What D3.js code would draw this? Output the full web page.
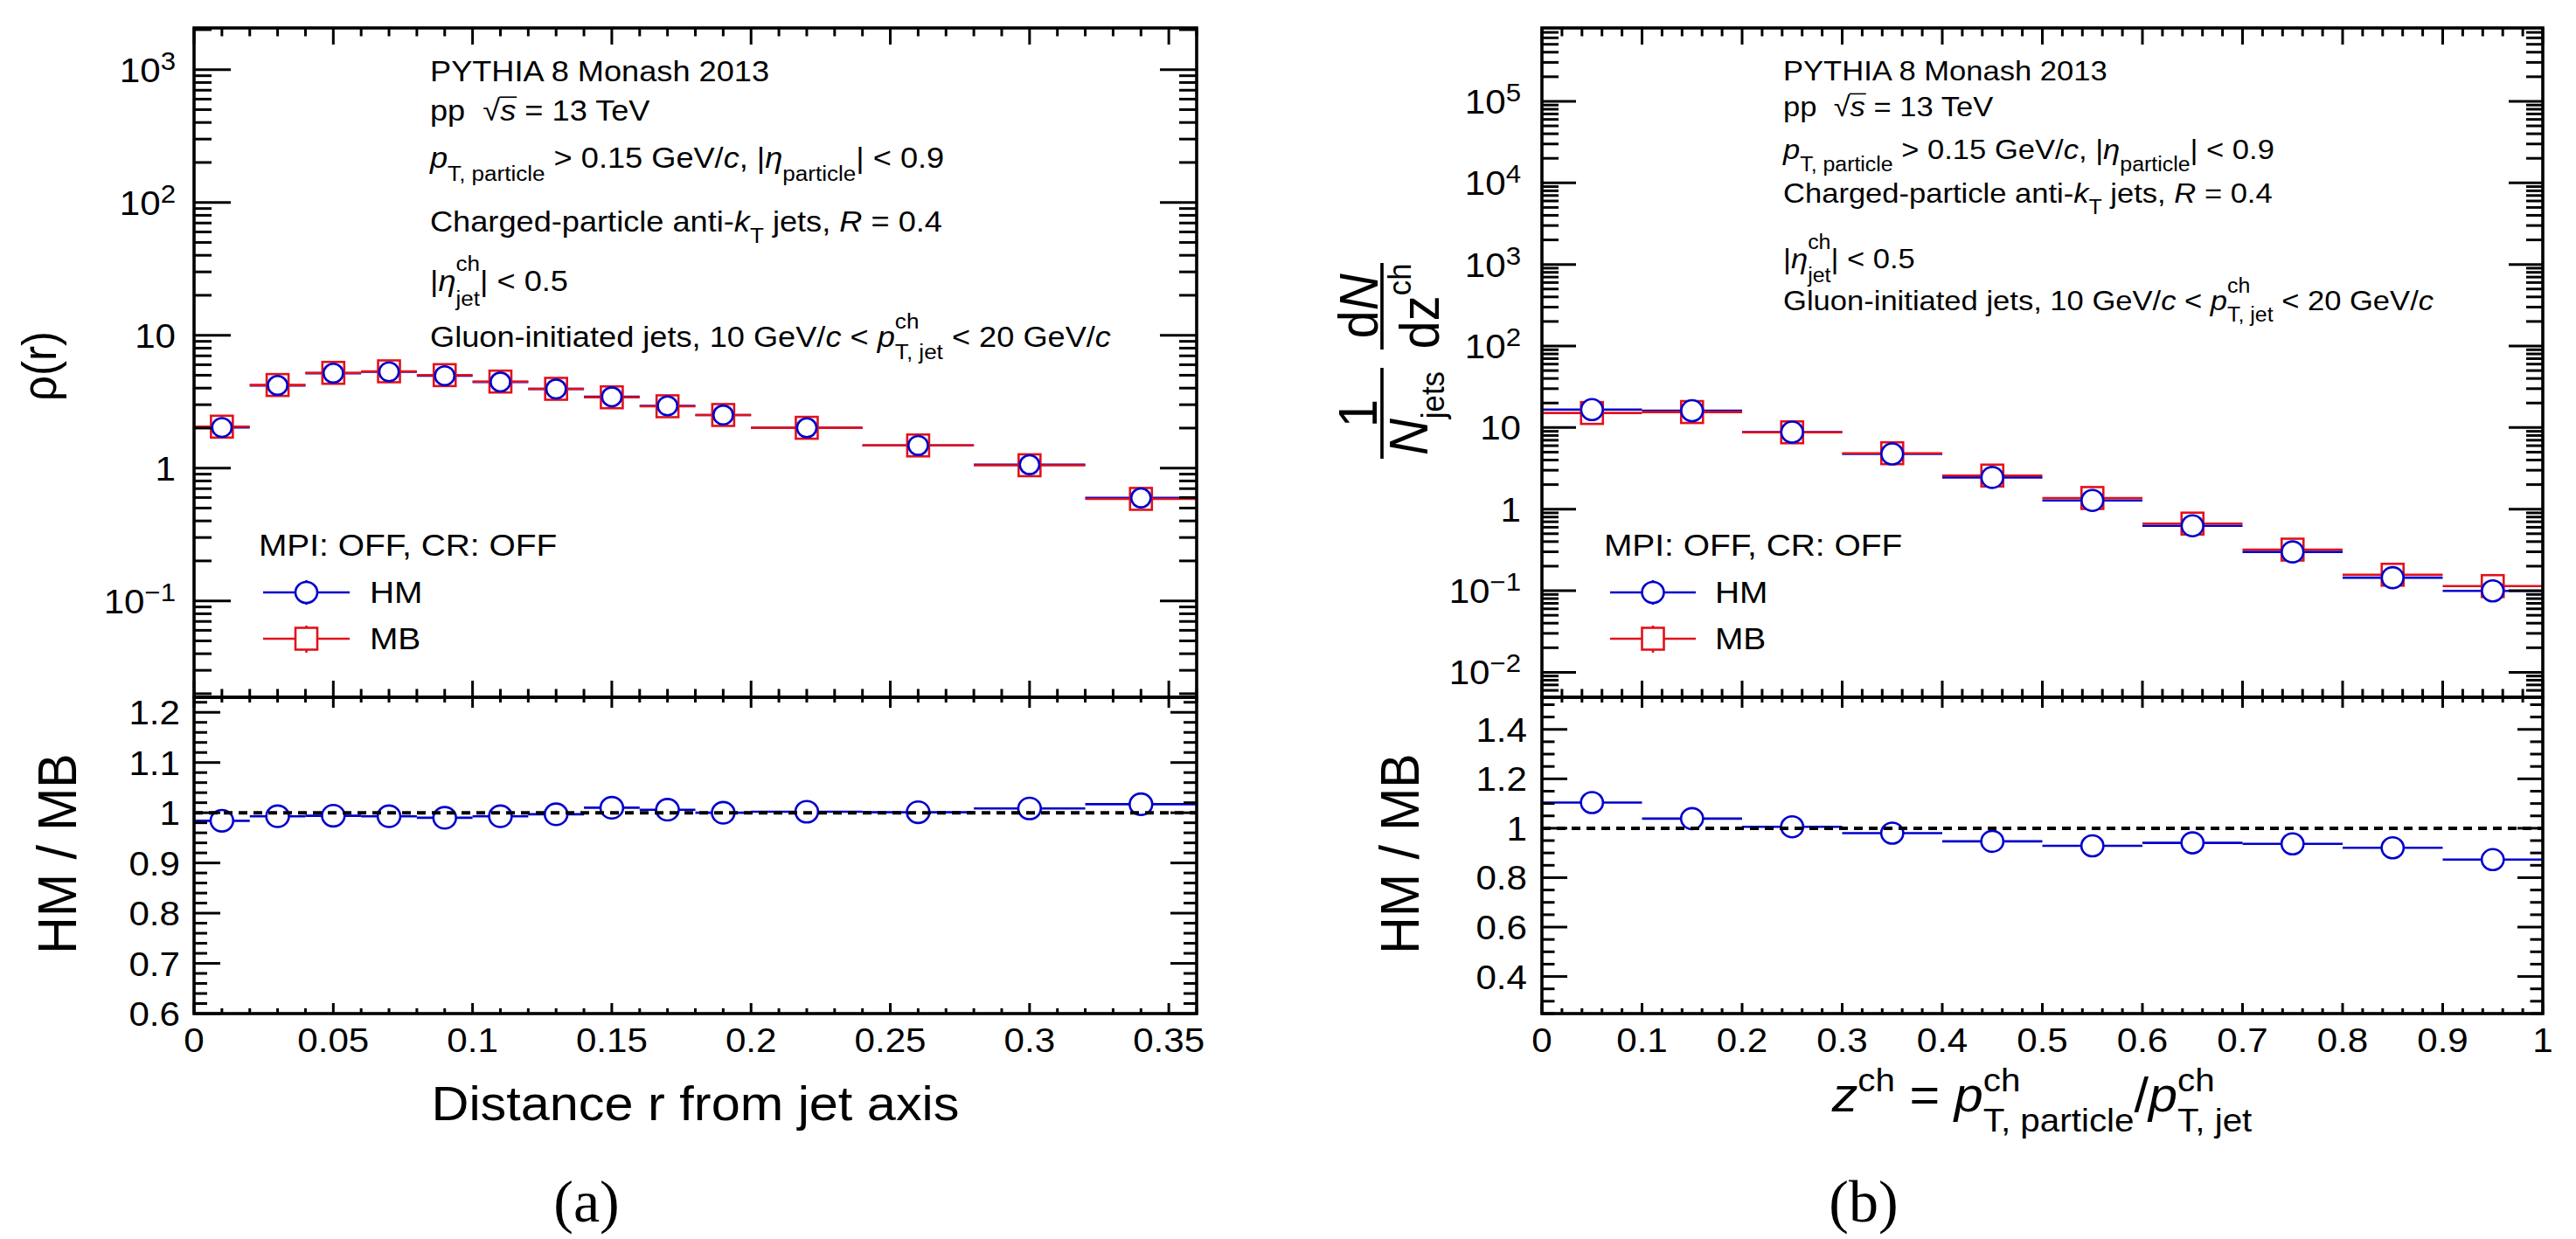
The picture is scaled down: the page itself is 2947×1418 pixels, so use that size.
<!DOCTYPE html>
<html><head><meta charset="utf-8">
<script src="https://cdn.jsdelivr.net/npm/d3@7"></script>
<style>
html,body{margin:0;padding:0;background:#fff;}
svg{display:block;font-family:"Liberation Sans",Arial,Helvetica,sans-serif;}
</style>
</head><body>
<svg id="c" width="2947" height="1418"></svg>
<script>
// ---------------- data ----------------
// (a) jet shape rho(r)
const rBinEdges = [0,0.02,0.04,0.06,0.08,0.10,0.12,0.14,0.16,0.18,0.20,0.24,0.28,0.32,0.36];
const rCenters  = [0.01,0.03,0.05,0.07,0.09,0.11,0.13,0.15,0.17,0.19,0.22,0.26,0.30,0.34];
const rhoMB     = [2.05,4.22,5.21,5.35,5.01,4.48,3.95,3.41,2.92,2.51,2.01,1.48,1.05,0.586];
const rhoHM     = [2.02,4.19,5.18,5.31,4.96,4.45,3.94,3.44,2.94,2.51,2.01,1.48,1.06,0.596];
const rhoRatio  = [0.984,0.993,0.994,0.993,0.990,0.993,0.997,1.010,1.006,1.000,1.002,1.001,1.0085,1.017];
// (b) fragmentation function
const zBinEdges = [0,0.1,0.2,0.3,0.4,0.5,0.6,0.7,0.8,0.9,1.0];
const zCenters  = [0.05,0.15,0.25,0.35,0.45,0.55,0.65,0.75,0.85,0.95];
const zMB       = [15.1,15.5,8.75,4.85,2.58,1.37,0.665,0.319,0.157,0.114];
const zHM       = [16.6,16.1,8.80,4.75,2.45,1.28,0.626,0.299,0.1445,0.0995];
const zRatio    = [1.104,1.039,1.006,0.980,0.947,0.929,0.941,0.937,0.921,0.873];
// ticks
const rXTicks      = [0,0.05,0.1,0.15,0.2,0.25,0.3,0.35];
const rXTickLabels = ["0","0.05","0.1","0.15","0.2","0.25","0.3","0.35"];
const zXTicks      = [0,0.1,0.2,0.3,0.4,0.5,0.6,0.7,0.8,0.9,1];
const zXTickLabels = ["0","0.1","0.2","0.3","0.4","0.5","0.6","0.7","0.8","0.9","1"];
const rhoYTicks    = [0.1,1,10,100,1000];
const zYTicks      = [0.01,0.1,1,10,100,1000,1e4,1e5];
const rRatioTicks  = [0.6,0.7,0.8,0.9,1,1.1,1.2];
const rRatioLabels = ["0.6","0.7","0.8","0.9","1","1.1","1.2"];
const zRatioTicks  = [0.4,0.6,0.8,1,1.2,1.4];
const zRatioLabels = ["0.4","0.6","0.8","1","1.2","1.4"];
const legendTitle = "MPI: OFF, CR: OFF";
const seriesNames = ["HM","MB"];

// ---------------- setup ----------------
const svg = d3.select('#c');
const SX = 1.08;
const BLUE = '#0000cc', RED = '#e3111b';
const TOP = 32, MID = 798, BOT = 1160;

function txt(parent, x, y, parts, o) {
  o = Object.assign({fs:39, anchor:'start', rot:false, up:0.4, dn:0.4, scr:0.7, sx:SX, family:null}, o||{});
  const g = parent.append('g').attr('transform', `translate(${x},${y}) scale(${o.sx},1)${o.rot?' rotate(-90)':''}`);
  const inner = g.append('g');
  let cx = 0;
  const put = (t, px, py, size, it) => {
    const e = inner.append('text').attr('x', px).attr('y', py).attr('font-size', size)
      .style('white-space','pre').text(t);
    if (it) e.attr('font-style','italic');
    if (o.family) e.attr('font-family', o.family);
    return e.node().getComputedTextLength();
  };
  (Array.isArray(parts)?parts:[parts]).forEach(p => {
    if (typeof p === 'string') { cx += put(p, cx, 0, o.fs, false); return; }
    const w = p.t ? put(p.t, cx, 0, o.fs, p.it) : 0;
    if (p.over) inner.append('line').attr('x1', cx - w*0.05).attr('x2', cx + w*1.05)
      .attr('y1', -0.80*o.fs).attr('y2', -0.80*o.fs).attr('stroke','#000').attr('stroke-width', o.fs*0.05);
    cx += w;
    let sw = 0;
    if (p.sup) sw = Math.max(sw, put(p.sup, cx, -(p.up ?? o.up)*o.fs, o.fs*o.scr, p.supIt));
    if (p.sub) sw = Math.max(sw, put(p.sub, cx, (p.dn ?? o.dn)*o.fs, o.fs*o.scr, p.subIt));
    cx += sw;
  });
  const shift = o.anchor === 'middle' ? -cx/2 : o.anchor === 'end' ? -cx : 0;
  inner.attr('transform', `translate(${shift},0)`);
  return g;
}

function logMinor(domain) {
  const out = [];
  const lo = Math.floor(Math.log10(domain[0])), hi = Math.ceil(Math.log10(domain[1]));
  for (let d = lo; d <= hi; d++) for (let k = 1; k <= 9; k++) {
    const v = k * Math.pow(10, d);
    if (v >= domain[0] && v <= domain[1]) out.push({v, major: k === 1});
  }
  return out;
}
function linTicks(domain, step, majorStep) {
  const out = [];
  const n0 = Math.ceil(domain[0]/step - 1e-6), n1 = Math.floor(domain[1]/step + 1e-6);
  for (let n = n0; n <= n1; n++) {
    const v = n*step;
    const r = v/majorStep;
    out.push({v, major: Math.abs(r - Math.round(r)) < 1e-6});
  }
  return out;
}

function drawYTicks(g, y, x0, x1, ticks, majLen, minLen) {
  ticks.forEach(t => {
    const yy = y(t.v), L = t.major ? majLen : minLen;
    g.append('line').attr('x1', x0).attr('x2', x0 + L).attr('y1', yy).attr('y2', yy);
    g.append('line').attr('x1', x1).attr('x2', x1 - L).attr('y1', yy).attr('y2', yy);
  });
}
function drawXTicks(g, x, y0, y1, ticks, majLen, minLen) {
  ticks.forEach(t => {
    const xx = x(t.v), L = t.major ? majLen : minLen;
    g.append('line').attr('x1', xx).attr('x2', xx).attr('y1', y0).attr('y2', y0 + L);
    g.append('line').attr('x1', xx).attr('x2', xx).attr('y1', y1).attr('y2', y1 - L);
  });
}

function expLabel(v) {
  const e = Math.round(Math.log10(v));
  if (e === 0) return ['1'];
  if (e === 1) return ['10'];
  return [{t:'10', sup: (e < 0 ? '\u2212' + (-e) : String(e))}];
}

function panel(cfg) {
  const x = d3.scaleLinear().domain(cfg.xDomain).range([cfg.x0, cfg.x1]);
  const yT = d3.scaleLog().domain(cfg.yDomain).range([MID, TOP]);
  const yR = d3.scaleLinear().domain(cfg.rDomain).range([BOT, MID]);

  // data: top panel
  const gd = svg.append('g');
  const edges = cfg.edges;
  const hLines = (vals, col, yS) => gd.append('g').selectAll('line').data(vals).join('line')
      .attr('x1', (d,i) => x(edges[i])).attr('x2', (d,i) => x(edges[i+1]))
      .attr('y1', d => yS(d)).attr('y2', d => yS(d))
      .attr('stroke', col).attr('stroke-width', 2.6);
  hLines(cfg.hm, BLUE, yT);
  hLines(cfg.mb, RED, yT);
  gd.append('g').selectAll('rect').data(cfg.mb).join('rect')
    .attr('x', (d,i) => x(cfg.centers[i]) - cfg.sq/2).attr('y', d => yT(d) - cfg.sq/2)
    .attr('width', cfg.sq).attr('height', cfg.sq)
    .attr('fill', '#fff').attr('stroke', RED).attr('stroke-width', 2.6);
  gd.append('g').selectAll('ellipse').data(cfg.hm).join('ellipse')
    .attr('cx', (d,i) => x(cfg.centers[i])).attr('cy', d => yT(d))
    .attr('rx', cfg.cr*1.03).attr('ry', cfg.cr)
    .attr('fill', '#fff').attr('stroke', BLUE).attr('stroke-width', 2.6);

  // ratio
  svg.append('line').attr('x1', cfg.x0).attr('x2', cfg.x1).attr('y1', yR(1)).attr('y2', yR(1))
    .attr('stroke', '#000').attr('stroke-width', 4).attr('stroke-dasharray', '10,7');
  hLines(cfg.ratio, BLUE, yR);
  gd.append('g').selectAll('ellipse.r').data(cfg.ratio).join('ellipse')
    .attr('cx', (d,i) => x(cfg.centers[i])).attr('cy', d => yR(d))
    .attr('rx', cfg.rr*1.05).attr('ry', cfg.rr)
    .attr('fill', '#fff').attr('stroke', BLUE).attr('stroke-width', 2.6);

  // axes
  const ga = svg.append('g').attr('stroke', '#000').attr('stroke-width', 3).attr('fill','none');
  drawYTicks(ga, yT, cfg.x0, cfg.x1, logMinor(cfg.yDomain), cfg.tMaj, cfg.tMin);
  drawYTicks(ga, yR, cfg.x0, cfg.x1, linTicks(cfg.rDomain, cfg.rMinorStep, cfg.rMajorStep), cfg.rMaj, cfg.rMin);
  const xt = linTicks(cfg.xDomain, cfg.xMinorStep, cfg.xMajorStep);
  drawXTicks(ga, x, TOP, MID, xt, 19, 9.5);
  drawXTicks(ga, x, MID, BOT, xt, 12, 6);
  ga.append('rect').attr('x', cfg.x0).attr('y', TOP).attr('width', cfg.x1 - cfg.x0).attr('height', MID - TOP).attr('stroke-width', 3.6);
  ga.append('rect').attr('x', cfg.x0).attr('y', MID).attr('width', cfg.x1 - cfg.x0).attr('height', BOT - MID).attr('stroke-width', 3.6);

  // tick labels
  cfg.yTicks.forEach(v => txt(svg, cfg.yLabRight, yT(v) + 14, expLabel(v), {fs:39, anchor:'end', up:0.36, scr:0.74}));
  cfg.rTicks.forEach((v,i) => txt(svg, cfg.rLabRight, yR(v) + 14, cfg.rLabels[i], {fs:39, anchor:'end'}));
  cfg.xTicks.forEach((v,i) => txt(svg, x(v), 1204, cfg.xLabels[i], {fs:39, anchor:'middle'}));

  // annotation
  const A = cfg.ann;
  txt(svg, A.x, A.y[0], 'PYTHIA 8 Monash 2013', {fs:A.fs});
  txt(svg, A.x, A.y[1], ['pp  \u221A', {t:'s', it:true, over:true}, ' = 13 TeV'], {fs:A.fs});
  txt(svg, A.x, A.y[2], [{t:'p', it:true, sub:'T, particle'}, ' > 0.15 GeV/', {t:'c', it:true}, ', |', {t:'\u03B7', it:true, sub:'particle'}, '| < 0.9'], {fs:A.fs, dn:0.45, scr:0.72});
  txt(svg, A.x, A.y[3], ['Charged-particle anti-', {t:'k', it:true, sub:'T'}, ' jets, ', {t:'R', it:true}, ' = 0.4'], {fs:A.fs, dn:0.4, scr:0.72});
  txt(svg, A.x, A.y[4], ['|', {t:'\u03B7', it:true, sup:'ch', sub:'jet'}, '| < 0.5'], {fs:A.fs, up:0.7, dn:0.5, scr:0.72});
  txt(svg, A.x, A.y[5], ['Gluon-initiated jets, 10 GeV/', {t:'c', it:true}, ' < ', {t:'p', it:true, sup:'ch', sub:'T, jet'}, ' < 20 GeV/', {t:'c', it:true}], {fs:A.fs, up:0.62, dn:0.42, scr:0.72});

  // legend
  const L = cfg.leg;
  txt(svg, L.x, 636, legendTitle, {fs:36});
  const lg = svg.append('g');
  // HM
  lg.append('line').attr('x1', L.lx0).attr('x2', L.lx1).attr('y1', 678).attr('y2', 678).attr('stroke', BLUE).attr('stroke-width', 2.6);
  lg.append('line').attr('x1', L.mx).attr('x2', L.mx).attr('y1', 664).attr('y2', 692).attr('stroke', BLUE).attr('stroke-width', 2.6);
  lg.append('ellipse').attr('cx', L.mx).attr('cy', 678).attr('rx', 12.5).attr('ry', 12).attr('fill', '#fff').attr('stroke', BLUE).attr('stroke-width', 2.6);
  txt(svg, L.tx, 690, seriesNames[0], {fs:36});
  // MB
  lg.append('line').attr('x1', L.lx0).attr('x2', L.lx1).attr('y1', 731).attr('y2', 731).attr('stroke', RED).attr('stroke-width', 2.6);
  lg.append('line').attr('x1', L.mx).attr('x2', L.mx).attr('y1', 716).attr('y2', 747).attr('stroke', RED).attr('stroke-width', 2.6);
  lg.append('rect').attr('x', L.mx - 12.5).attr('y', 731 - 12.5).attr('width', 25).attr('height', 25).attr('fill', '#fff').attr('stroke', RED).attr('stroke-width', 2.6);
  txt(svg, L.tx, 743, seriesNames[1], {fs:36});

  // ratio title
  txt(svg, cfg.ratioTitleX, 977, 'HM / MB', {fs:59, rot:true, anchor:'middle'});
  return x;
}

const xa = panel({
  x0:222, x1:1369, xDomain:[0,0.36], yDomain:[0.0188,2060], rDomain:[0.6,1.23],
  edges:rBinEdges, centers:rCenters, hm:rhoHM, mb:rhoMB, ratio:rhoRatio,
  sq:25, cr:10.8, rr:12.3,
  tMaj:42, tMin:20, rMaj:30, rMin:15, rMinorStep:0.02, rMajorStep:0.1,
  xMinorStep:0.01, xMajorStep:0.05,
  yTicks:rhoYTicks, rTicks:rRatioTicks, rLabels:rRatioLabels, xTicks:rXTicks, xLabels:rXTickLabels,
  yLabRight:201, rLabRight:206,
  ann:{x:492, fs:33.5, y:[93,138,192,265,333,397]},
  leg:{x:296, lx0:301, lx1:400, mx:350.5, tx:423},
  ratioTitleX:87
});
const xb = panel({
  x0:1764, x1:2909, xDomain:[0,1], yDomain:[0.00494,7.93e5], rDomain:[0.25,1.53],
  edges:zBinEdges, centers:zCenters, hm:zHM, mb:zMB, ratio:zRatio,
  sq:25, cr:12, rr:12,
  tMaj:39, tMin:19, rMaj:29, rMin:14.5, rMinorStep:0.05, rMajorStep:0.2,
  xMinorStep:0.02, xMajorStep:0.1,
  yTicks:zYTicks, rTicks:zRatioTicks, rLabels:zRatioLabels, xTicks:zXTicks, xLabels:zXTickLabels,
  yLabRight:1740, rLabRight:1747,
  ann:{x:2040, fs:32, y:[92,133,182,232,307,355]},
  leg:{x:1835, lx0:1842, lx1:1940, mx:1891, tx:1962},
  ratioTitleX:1623
});

// axis titles
txt(svg, 64, 419, ['\u03C1(r)'], {fs:51, rot:true, anchor:'middle'});
txt(svg, 795.5, 1282, 'Distance r from jet axis', {fs:55, anchor:'middle'});
txt(svg, 2336, 1272, [{t:'z', it:true, sup:'ch'}, ' = ', {t:'p', it:true, sup:'ch', sub:'T, particle'}, '/', {t:'p', it:true, sup:'ch', sub:'T, jet'}], {fs:55, anchor:'middle', up:0.42, dn:0.42, scr:0.68});

// right y title: (1/N_jets) dN/dz^ch, rotated fraction
(function(){
  const F = 58, gx = 1581, gy = 525;
  const g = svg.append('g').attr('transform', `translate(${gx},${gy}) scale(${SX},1) rotate(-90)`);
  const put = (t, x, y, size, it, anchor) => {
    const e = g.append('text').attr('x', x).attr('y', y).attr('font-size', size).attr('text-anchor', anchor||'start').text(t);
    if (it) e.attr('font-style','italic');
    return e;
  };
  // fraction 1
  g.append('line').attr('x1', 0).attr('x2', 104).attr('y1', 0).attr('y2', 0).attr('stroke','#000').attr('stroke-width', 3.4);
  put('1', 52, -6, F, false, 'middle');
  const n = put('N', 0, 48, F, true);
  const nw = n.node().getComputedTextLength();
  const js = put('jets', 0, 48 + 0.3*F, F*0.6, false);
  const jw = js.node().getComputedTextLength();
  const off1 = 52 - (nw + jw)/2;
  n.attr('x', off1); js.attr('x', off1 + nw);
  // fraction 2
  g.append('line').attr('x1', 125).attr('x2', 224).attr('y1', 0).attr('y2', 0).attr('stroke','#000').attr('stroke-width', 3.4);
  const d1 = put('d', 0, -5, F, false);
  const nn = put('N', 0, -5, F, true);
  const dw = d1.node().getComputedTextLength(), nnw = nn.node().getComputedTextLength();
  const c2 = 174.5;
  d1.attr('x', c2 - (dw+nnw)/2); nn.attr('x', c2 - (dw+nnw)/2 + dw);
  const dz = put('dz', 0, 60, F, false);
  const dzw = dz.node().getComputedTextLength();
  const ch = put('ch', 0, 60 - 0.5*F, F*0.6, false);
  const chw = ch.node().getComputedTextLength();
  dz.attr('x', c2 - (dzw+chw)/2); ch.attr('x', c2 - (dzw+chw)/2 + dzw);
})();

// sub-figure captions
txt(svg, 671, 1398, '(a)', {fs:68, anchor:'middle', sx:1.0, family:'"Liberation Serif","DejaVu Serif",serif'});
txt(svg, 2132, 1398, '(b)', {fs:68, anchor:'middle', sx:1.0, family:'"Liberation Serif","DejaVu Serif",serif'});
</script>
</body></html>
